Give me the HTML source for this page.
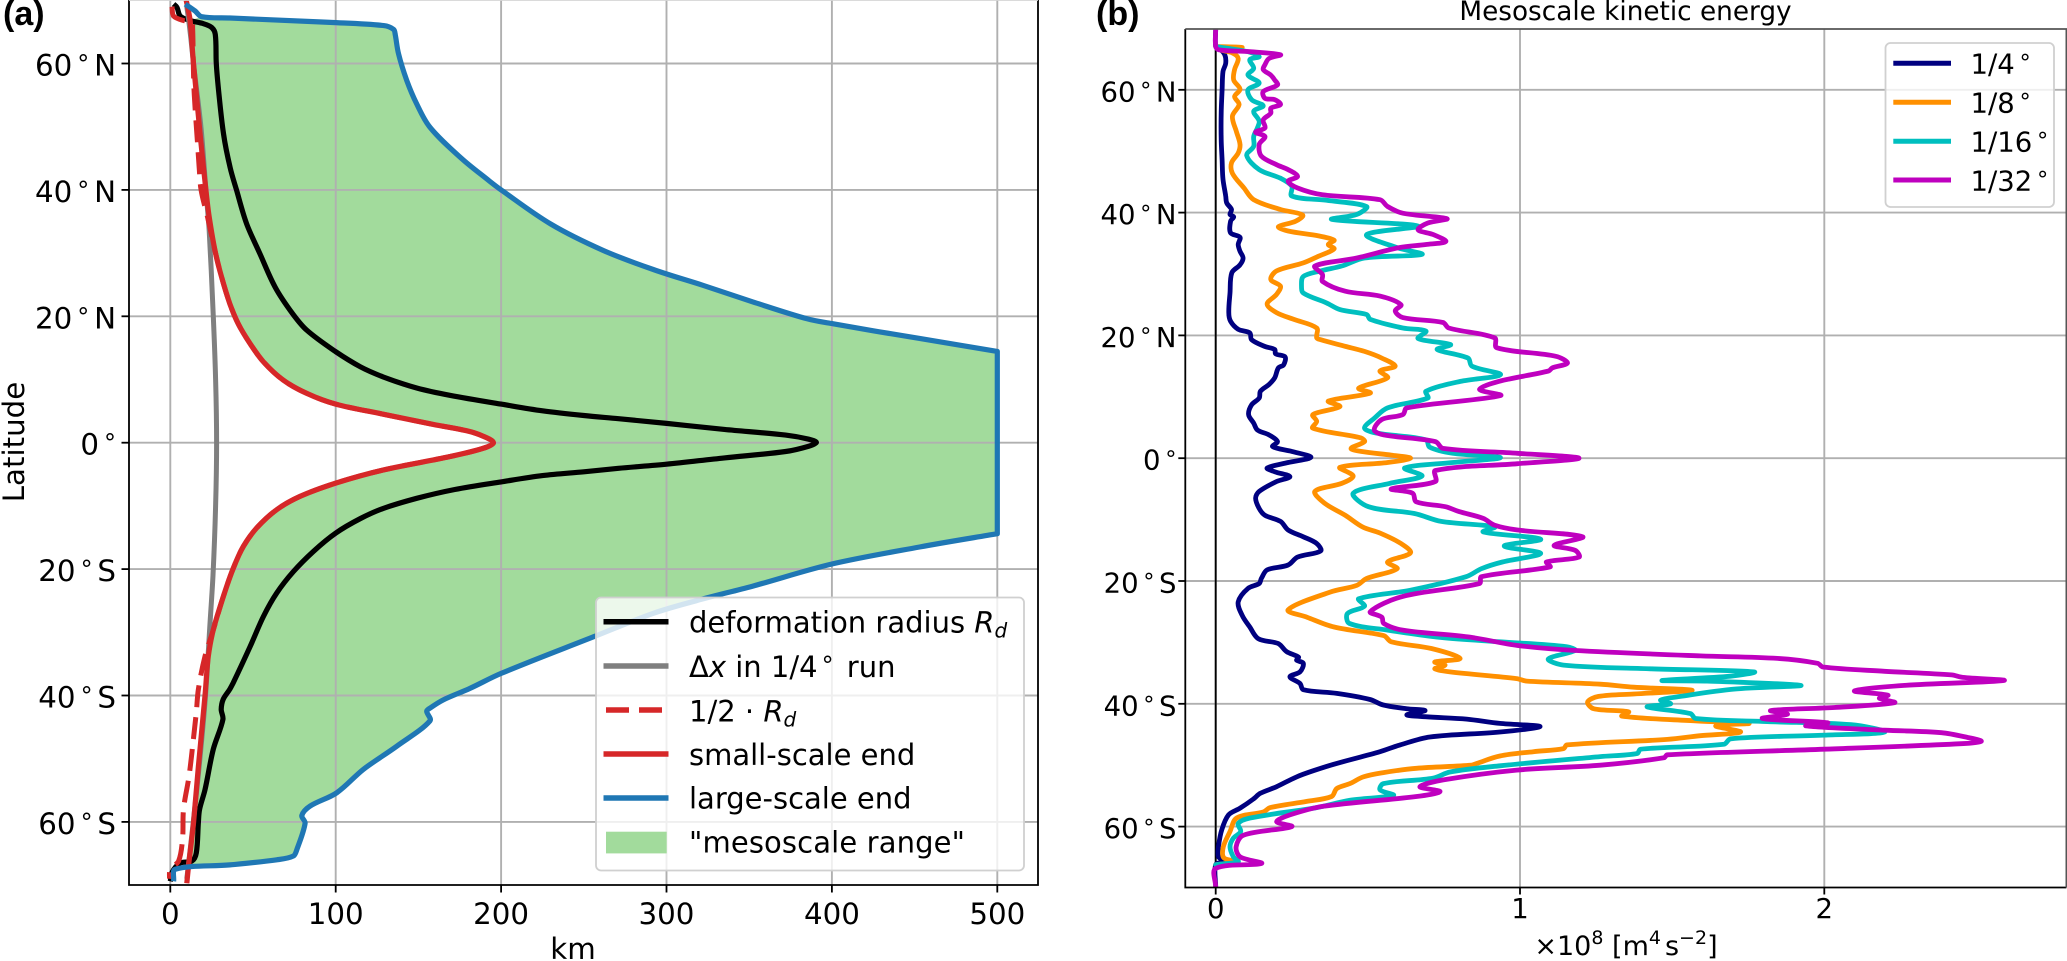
<!DOCTYPE html>
<html lang="en">
<head>
<meta charset="utf-8">
<title>Deformation radius and mesoscale kinetic energy</title>
<style>
html,body{margin:0;padding:0;background:#fff}
svg{display:block;font-family:"DejaVu Sans","Liberation Sans",sans-serif;fill:#000}
</style>
</head>
<body>
<svg id="fig" xmlns="http://www.w3.org/2000/svg" width="2067" height="961" viewBox="0 0 2067 961">
<defs>
<clipPath id="clipA"><rect x="129" y="0" width="909" height="885.5"/></clipPath>
<clipPath id="clipB"><rect x="1185.3" y="29" width="881.7" height="858.5"/></clipPath>
</defs>
<g id="panelA"></g>
<g id="panelB"></g>
</svg>
<script>
// ---------- Panel (a) data: latitude (deg) and length scale (km) ----------
const xTicksA = [0,100,200,300,400,500];
const latTicks = [60,40,20,0,-20,-40,-60];
const latTickLabels = ['60°N','40°N','20°N','0°','20°S','40°S','60°S'];

const latRd = [69.4,68.9,67.5,66.8,66.3,65.7,64.6,60,55.7,48.8,
43.5,40,34.6,29.9,24.6,20.4,17.8,14.4,12,10.4,
8.65,7.5,6.1,5.05,4.3,3.8,3.05,2.1,1.2,0.55,
0.05,-0.55,-1.4,-2.4,-3.4,-4.05,-4.6,-5.2,-6.2,-7.4,
-8.8,-10.4,-12,-14.3,-17.2,-20.4,-23.8,-27.5,-32.3,-38,
-39,-40.6,-42.2,-43.8,-48.5,-54.9,-58,-60,-64.9,-66.2,
-66.5,-68,-69.4];
const kmRd = [2,4,6,12,20,25,27.2,27.8,29.2,32.2,
36.2,40,46.2,54.2,63.4,74,82.5,100,115,128.8,
149,169,200,225,250,271,300,335,372,386,
390.6,386,372,335,300,271,250,225,200,172,
149,128.8,115,100,86.5,74.4,64.3,56.3,48.2,38,
36,32,30.8,31.8,26,21,17.7,17,15.7,13,
6,1,0];

const latGridSize = [69,65,60,50,40,33.5,20,10,0,-10,-21,-28.6,-40,-50,-60,-69];
const kmGridSize = [10,12,14,18.5,21.5,23.5,26,27.4,28,27.4,25.8,24,21.3,17.9,13.9,10];

const latHalf = [69,67.5,66.8,66.6,65.7,60,55,48.8,43.5,40,
35.6,30.4,26.2,22,18.8,15.7,12.8,9.9,7.8,6.1,
4.5,2.9,1.9,1.05,0,-0.9,-2.2,-4.3,-6.4,-8.5,
-10.6,-13.5,-16.4,-19.9,-24.4,-29.6,-33.8,-39,-42.7,-47.5,
-52.8,-58,-62.8,-66.2,-67.5,-69];
const kmHalf = [1,2,8,13,13.5,13.9,14.5,16.1,17.5,18.6,
22.6,27,31,36,41.1,48.2,56.3,68.3,82.5,100,
129,159,179,189,195.4,189,169,129,100,78.4,
64.3,52.2,44.2,38,32,26,21,17,15.7,13.7,
11.3,8,7.4,5,0,-0.5];

const latSmall = [70,68.9,66.8,60,48.8,40,35.6,30.4,26.2,22,
18.8,15.7,12.8,9.9,7.8,6.1,4.5,2.9,1.9,1.05,
0,-0.9,-2.2,-4.3,-6.4,-8.5,-10.6,-13.5,-16.4,-19.9,
-24.4,-29.6,-33.8,-40,-51.2,-60.2,-67,-69.7];
const kmSmall = [9.6,10.5,12,14,18,21.5,23.6,27,31,36,
41.1,48.2,56.3,68.3,82.5,100,129,159,179,189,
195.4,189,169,129,100,78.4,64.3,52.2,44.2,38,
32,26,23,21,17,14,11,10];

const latLarge = [69.4,68.3,67.4,67.2,66.5,66,65.4,64.6,61.5,57.3,
53.6,49.9,45,41.4,40,34.6,30.4,27.4,24.9,22.3,
19.6,18.85,17.7,16.5,14.45,-14.4,-16.5,-19.2,-22.7,-25,
-27,-30.7,-36.5,-38.9,-40.7,-42,-42.5,-44,-48,-51.7,
-55.4,-57.5,-59,-60.2,-64.4,-65.4,-66,-66.8,-67.5,-69.4];
const kmLarge = [9,15,19,36,96.6,129,135,136,138,143,
149,157,176,193,200,230,262,292,322,352,
385,400,425,453,500,500,453,400,352,318,
292,256,200,181,165,157,155,157,137,116.7,
100.6,84.5,79.5,81.5,76.5,74.4,64.4,36,3,2];

// ---------- Panel (b) data: latitude (deg) and kinetic energy (1e8 m^4 s^-2) ----------
const xTicksB = [0,1,2];
const seriesLabelsB = ['1/4','1/8','1/16','1/32'];

const lat4 = [70,67.05,66.8,65.7,64.3,63,60,56.2,51.9,48.6,
45.4,42.7,41.6,40.5,39.7,39.3,38.6,36.7,36,34.8,
33.7,32.6,31.5,30.2,26.9,23.7,22.3,21,20.4,19.3,
18.2,17.7,17,16.5,15.2,14.7,13.1,12,10.9,9.8,
8.7,7.1,5.7,4.6,3.8,2.7,1.9,1.1,0.15,-0.7,
-1.6,-2.2,-3,-3.8,-5.4,-6.5,-8.2,-9.3,-10.3,-11.7,
-12.8,-13.9,-15.1,-16.1,-17.4,-18.2,-19.6,-20.4,-21.2,-23.4,
-25.6,-27.5,-29.4,-30.2,-31.5,-32.4,-32.9,-33.4,-34.8,-35.6,
-36.7,-37.7,-38.3,-39.3,-40.2,-40.8,-41.1,-41.8,-42.1,-42.5,
-43.2,-43.7,-44.6,-45.4,-46.7,-47.8,-49.7,-50.9,-51.9,-53.5,
-54.6,-55.5,-57,-58.1,-60.5,-63.3,-64.9,-65.7,-66.2,-69.8];
const ke4 = [0,0,0.011,0.03,0.033,0.024,0.021,0.018,0.018,0.021,
0.024,0.033,0.036,0.052,0.047,0.059,0.049,0.049,0.08,0.074,
0.08,0.09,0.08,0.053,0.047,0.043,0.049,0.074,0.112,0.118,
0.162,0.194,0.197,0.228,0.223,0.206,0.194,0.175,0.147,0.143,
0.118,0.108,0.125,0.137,0.175,0.203,0.187,0.25,0.313,0.238,
0.169,0.194,0.244,0.2,0.143,0.131,0.143,0.162,0.213,0.238,
0.288,0.332,0.345,0.269,0.238,0.169,0.15,0.143,0.106,0.074,
0.087,0.112,0.14,0.206,0.233,0.272,0.266,0.288,0.277,0.244,
0.277,0.288,0.398,0.507,0.551,0.628,0.688,0.628,0.688,0.825,
0.934,1.066,0.934,0.704,0.606,0.54,0.398,0.321,0.266,0.2,
0.146,0.124,0.08,0.042,0.02,0.009,0.009,0.027,0,0];

const lat8 = [67.05,66.9,66.5,66,65.1,63.3,61.6,60.1,58.9,57.6,
55.7,53.2,51.1,49.7,48.1,46.4,44,42.1,40.5,39.6,
38.6,37.7,37,36.2,35.5,34.8,34.1,32.9,31.8,30.5,
29.1,28,26.7,25.1,23.7,22.6,21.2,19.6,19.3,18.2,
17.4,16.3,15,14.2,13.1,11.4,10.6,9.3,8.4,7.1,
6,4.9,3.3,2.7,1.6,1.1,0.5,0,-0.7,-1.5,
-2.9,-4.1,-5.4,-7.3,-9.3,-11.2,-12.2,-13.9,-15.4,-16.9,
-18,-19.6,-20.7,-21.8,-24.7,-25.9,-27.5,-28.9,-29.9,-31,
-32.6,-33.2,-33.7,-34.3,-34.8,-35.9,-36.3,-36.8,-37.3,-37.8,
-38.4,-38.8,-39.7,-40.8,-41.3,-42,-42.8,-43.2,-43.6,-44.6,
-45.2,-45.8,-46.7,-47.3,-47.8,-48.5,-49.7,-50,-50.5,-51.2,
-51.9,-53,-53.8,-55.1,-55.9,-56.9,-57.6,-58.6,-60.8,-63.3,
-65.1,-65.7,-66.2];
const ke8 = [0,0.087,0.018,0.055,0.074,0.062,0.059,0.08,0.062,0.077,
0.055,0.068,0.08,0.074,0.052,0.055,0.093,0.125,0.213,0.286,
0.263,0.206,0.238,0.338,0.389,0.37,0.389,0.338,0.288,0.2,
0.181,0.213,0.2,0.169,0.2,0.257,0.332,0.332,0.345,0.428,
0.489,0.546,0.59,0.54,0.565,0.47,0.508,0.37,0.408,0.319,
0.332,0.319,0.477,0.489,0.445,0.477,0.577,0.64,0.565,0.408,
0.452,0.414,0.326,0.357,0.426,0.483,0.54,0.609,0.64,0.565,
0.596,0.496,0.464,0.376,0.238,0.3,0.389,0.552,0.577,0.709,
0.803,0.72,0.754,0.72,0.77,0.989,1.022,1.264,1.374,1.566,
1.374,1.258,1.222,1.242,1.357,1.335,1.582,1.753,1.643,1.725,
1.593,1.484,1.154,1.143,1.044,0.934,0.858,0.841,0.66,0.551,
0.485,0.441,0.398,0.381,0.299,0.179,0.157,0.069,0.047,0.025,
0.027,0.069,0];

const lat16 = [67.05,66.2,65.4,64.9,63.5,62.4,61.1,60,58.4,57.4,
56.5,54.9,53.8,52.4,50.8,49.3,47,45.6,44.3,42.7,
42,41,39.7,38.9,37.8,36.4,34.3,33.2,32.6,31.3,
30.5,29.6,28,26.9,25.3,24.2,23.4,22.6,21.2,20.7,
19.5,18.5,17.7,16.3,15,13.6,12.5,10.9,9.8,8.2,
6.5,4.9,4.1,3,1.8,0.8,0.1,-0.7,-1.6,-2.9,
-4.1,-5.7,-7.9,-9,-10.3,-11.2,-12,-13.2,-14.3,-15.5,
-16.9,-18,-19.3,-21.5,-22.9,-24.1,-25.3,-26.9,-28,-29.2,
-29.9,-30.7,-31.3,-32.7,-33.7,-34.3,-34.8,-35.5,-36.2,-36.3,
-37,-37.6,-38.8,-39.4,-40,-40.5,-41.6,-42.4,-42.9,-43.4,
-44.6,-45.1,-45.7,-46.6,-47.4,-48.1,-48.6,-50.1,-51.1,-52.1,
-53,-54,-54.9,-55.7,-56.9,-58.6,-59.5,-60.8,-61.9,-63.3,
-64.9,-65.7,-66.2];
const ke16 = [0,0.106,0.143,0.112,0.125,0.106,0.143,0.106,0.118,0.156,
0.125,0.143,0.137,0.125,0.125,0.102,0.143,0.213,0.25,0.25,
0.364,0.496,0.464,0.382,0.665,0.496,0.596,0.678,0.489,0.414,
0.345,0.288,0.282,0.288,0.364,0.408,0.496,0.508,0.615,0.691,
0.665,0.772,0.728,0.829,0.842,0.936,0.804,0.691,0.697,0.565,
0.521,0.489,0.527,0.691,0.703,0.779,0.936,0.779,0.621,0.678,
0.571,0.452,0.502,0.653,0.741,0.917,0.879,1.068,0.948,1.068,
0.942,0.873,0.823,0.64,0.47,0.489,0.433,0.439,0.565,0.741,
0.934,1.154,1.181,1.093,1.143,1.429,1.769,1.692,1.467,1.615,
1.923,1.703,1.527,1.462,1.495,1.418,1.56,1.577,1.813,2.088,
2.198,2,1.692,1.67,1.396,1.385,1.264,0.934,0.77,0.715,
0.551,0.54,0.584,0.441,0.332,0.113,0.074,0.082,0.058,0.047,
0.058,0.074,0];

const lat32 = [70,67.05,66.5,66.2,65.7,65.1,64.1,63.3,62.4,61.6,
60.8,59.7,58.6,58.4,57.6,57,56.2,55.1,53.8,53.1,
52.4,51.1,49.2,47.8,47,45.9,45.1,44,42.9,42.1,
41,39.9,39,38.3,37.2,36.4,35.3,34.8,34.3,32.6,
31.3,29.9,28.8,27.2,26.4,25,24,22.9,22.1,21.2,
19.6,18,16.6,15.5,14.7,14.2,12.5,11.2,10.2,8.2,
7.1,6.3,4.6,3.8,2.7,1.6,0.8,0,-0.9,-2,
-3.8,-5,-5.7,-7.1,-7.9,-8.7,-9.8,-10.9,-11.7,-12.8,
-14.2,-15,-16.1,-16.9,-17.7,-19.3,-20.4,-22.5,-25,-25.9,
-26.9,-28,-29.1,-30.5,-31.3,-32.2,-32.6,-33.4,-34,-34.7,
-35.3,-35.7,-36.2,-37,-37.9,-38.6,-39.1,-39.8,-40.6,-41.1,
-41.7,-42.4,-43.1,-43.6,-44.3,-44.7,-45.5,-46.1,-46.5,-47.4,
-48.3,-48.8,-50,-50.8,-52.4,-53.5,-54.3,-55.1,-56.7,-58.1,
-59.2,-60,-61.4,-63.3,-64.9,-66,-66.8,-69.8];
const ke32 = [0,0,0.011,0.112,0.213,0.175,0.162,0.156,0.181,0.194,
0.203,0.156,0.162,0.194,0.213,0.181,0.181,0.156,0.162,0.131,
0.162,0.143,0.15,0.2,0.238,0.269,0.238,0.269,0.351,0.54,
0.565,0.615,0.76,0.697,0.665,0.716,0.756,0.691,0.603,0.464,
0.326,0.351,0.351,0.426,0.54,0.609,0.59,0.615,0.747,0.766,
0.917,0.923,1.118,1.156,1.106,1.094,0.93,0.867,0.936,0.628,
0.615,0.546,0.521,0.552,0.722,0.747,0.992,1.194,0.992,0.722,
0.722,0.577,0.647,0.659,0.755,0.8,0.879,0.916,0.992,1.206,
1.112,1.181,1.194,1.087,1.099,0.873,0.867,0.615,0.508,0.546,
0.552,0.615,0.829,0.992,1.176,1.593,1.846,1.978,1.995,2.198,
2.418,2.456,2.59,2.264,2.099,2.209,2.181,2.231,2.033,1.824,
1.879,1.797,2.011,1.94,2.198,2.385,2.473,2.516,2.45,2,
1.484,1.473,1.264,0.989,0.748,0.671,0.737,0.66,0.354,0.244,
0.2,0.25,0.091,0.067,0.08,0.151,0,0];

// ---------- Axis functions ----------
const NS = 'http://www.w3.org/2000/svg';
function xA(km){ return 170.3 + km * 1.654; }
function yA(lat){ return 442.7 - lat * 6.32; }
function xB(v){ return 1215.7 + v * 304.3; }
function yB(lat){ return 458.2 - lat * 6.14; }

function el(parent, tag, attrs, txt){
  const e = document.createElementNS(NS, tag);
  for (const k in attrs) e.setAttribute(k, attrs[k]);
  if (txt !== undefined) e.textContent = txt;
  parent.appendChild(e);
  return e;
}
function dist(a, b){ return Math.hypot(a[0]-b[0], a[1]-b[1]) || 0.001; }
function tangent(p, i){
  if (i === 0) { const L = dist(p[0], p[1]); return [(p[1][0]-p[0][0])/L, (p[1][1]-p[0][1])/L]; }
  const n = p.length - 1;
  if (i === n) { const L = dist(p[n-1], p[n]); return [(p[n][0]-p[n-1][0])/L, (p[n][1]-p[n-1][1])/L]; }
  const s = dist(p[i-1], p[i]) + dist(p[i], p[i+1]);
  return [(p[i+1][0]-p[i-1][0])/s, (p[i+1][1]-p[i-1][1])/s];
}
function smoothCommands(p){
  let d = '';
  for (let i = 0; i < p.length - 1; i++){
    const L = dist(p[i], p[i+1]) / 3;
    const m1 = tangent(p, i), m2 = tangent(p, i+1);
    d += 'C' + (p[i][0]+m1[0]*L).toFixed(1) + ' ' + (p[i][1]+m1[1]*L).toFixed(1) + ' ' +
      (p[i+1][0]-m2[0]*L).toFixed(1) + ' ' + (p[i+1][1]-m2[1]*L).toFixed(1) + ' ' +
      p[i+1][0].toFixed(1) + ' ' + p[i+1][1].toFixed(1);
  }
  return d;
}
function pointsFrom(vals, lats, fx, fy){
  const out = [];
  const n = Math.min(vals.length, lats.length);
  for (let i = 0; i < n; i++) out.push([fx(vals[i]), fy(lats[i])]);
  return out;
}
function smoothPath(vals, lats, fx, fy){
  const p = pointsFrom(vals, lats, fx, fy);
  return 'M' + p[0][0].toFixed(1) + ' ' + p[0][1].toFixed(1) + smoothCommands(p);
}
// Large-scale curve has sharp corners where it saturates at its maximum.
function largePathA(kms, lats){
  const p = pointsFrom(kms, lats, xA, yA);
  const top = Math.max.apply(null, kms);
  const a = kms.indexOf(top), b = kms.lastIndexOf(top);
  return 'M' + p[0][0].toFixed(1) + ' ' + p[0][1].toFixed(1) + smoothCommands(p.slice(0, a+1)) +
    'L' + p[b][0].toFixed(1) + ' ' + p[b][1].toFixed(1) + smoothCommands(p.slice(b));
}
function degreeText(parent, x, y, label, size, anchor){
  const parts = label.split('°');
  const t = el(parent, 'text', {x:x, y:y, 'font-size':size, 'text-anchor':anchor});
  el(t, 'tspan', {}, parts[0]);
  el(t, 'tspan', {dx:(size*0.17).toFixed(1), dy:(-size*0.12).toFixed(1), 'font-size':(size*0.82).toFixed(1)}, '°');
  if (parts[1]) el(t, 'tspan', {dx:(size*0.165).toFixed(1), dy:(size*0.12).toFixed(1)}, parts[1]);
  return t;
}

// ---------- Panel (a) ----------
const A = document.getElementById('panelA');
const FA = 29.3, FL = 29, FB = 27.5;

const fillLat = [], fillKm = [];
for (let i = 0; i < latLarge.length; i++){
  if (latLarge[i] < 67.5 && latLarge[i] > -67.2){ fillLat.push(latLarge[i]); fillKm.push(kmLarge[i]); }
}
const fillLatS = [], fillKmS = [];
for (let i = latSmall.length - 1; i >= 0; i--){
  if (latSmall[i] < 67.5 && latSmall[i] > -67.2){ fillLatS.push(latSmall[i]); fillKmS.push(kmSmall[i]); }
}
const rangePath = largePathA(fillKm, fillLat) + 'L' + xA(fillKmS[0]).toFixed(1) + ' ' + yA(fillLatS[0]).toFixed(1) +
  smoothCommands(pointsFrom(fillKmS, fillLatS, xA, yA)) + 'Z';
const rangeFill = el(A, 'path', {d:rangePath, fill:'#a2db9c', stroke:'none', 'clip-path':'url(#clipA)'});



for (const v of xTicksA){
  const g = el(A, 'line', {x1:xA(v), x2:xA(v), y1:0, y2:885, stroke:'#b0b0b0', 'stroke-width':1.9});
  
  
  const k = el(A, 'line', {x1:xA(v), x2:xA(v), y1:885, y2:892.5, stroke:'#000', 'stroke-width':1.8});
  
  
  const l = el(A, 'text', {x:xA(v), y:924, 'font-size':FA, 'text-anchor':'middle'}, String(v));
  
  
}
latTicks.forEach(function(v, i){
  const g = el(A, 'line', {x1:129, x2:1038, y1:yA(v), y2:yA(v), stroke:'#b0b0b0', 'stroke-width':1.9});
  
  
  const k = el(A, 'line', {x1:121.5, x2:129, y1:yA(v), y2:yA(v), stroke:'#000', 'stroke-width':1.8});
  
  
  const l = degreeText(A, 116, yA(v)+12, latTickLabels[i], FA, 'end');
  
  
});

const curveRd = el(A, 'path', {d:smoothPath(kmRd, latRd, xA, yA), fill:'none', stroke:'#000', 'stroke-width':5.2, 'stroke-linejoin':'round', 'clip-path':'url(#clipA)'});


const curveGrid = el(A, 'path', {d:smoothPath(kmGridSize, latGridSize, xA, yA), fill:'none', stroke:'#7f7f7f', 'stroke-width':5, 'clip-path':'url(#clipA)'});


const curveHalf = el(A, 'path', {d:smoothPath(kmHalf, latHalf, xA, yA), fill:'none', stroke:'#d62728', 'stroke-width':5, 'stroke-dasharray':'22 10', 'clip-path':'url(#clipA)'});


const curveSmall = el(A, 'path', {d:smoothPath(kmSmall, latSmall, xA, yA), fill:'none', stroke:'#d62728', 'stroke-width':5.2, 'clip-path':'url(#clipA)'});


const curveLarge = el(A, 'path', {d:largePathA(kmLarge, latLarge), fill:'none', stroke:'#1f77b4', 'stroke-width':5.2, 'stroke-linejoin':'round', 'clip-path':'url(#clipA)'});



const frameA = el(A, 'path', {d:'M129 0V885H1038V0', fill:'none', stroke:'#000', 'stroke-width':1.8});


const frameAtop = el(A, 'line', {x1:129, x2:1038, y1:0.4, y2:0.4, stroke:'#d4d4d4', 'stroke-width':1});



const panelLabelA = el(A, 'text', {x:3, y:25, 'font-size':34, 'font-weight':'bold', style:'font-family:"Liberation Sans",sans-serif'}, '(a)');


const yTitleA = el(A, 'text', {x:0, y:0, 'font-size':FA, 'text-anchor':'middle', transform:'translate(24,442) rotate(-90)'}, 'Latitude');


const xTitleA = el(A, 'text', {x:573, y:959, 'font-size':FA, 'text-anchor':'middle'}, 'km');



// Legend (a)
const legA = el(A, 'g', {});


const legBoxA = el(legA, 'rect', {x:596, y:597.5, width:428, height:273, rx:5, fill:'#fff', 'fill-opacity':0.8, stroke:'#d0d0d0', 'stroke-width':1.8});


const hRd = el(legA, 'line', {x1:603.5, x2:668.5, y1:621.7, y2:621.7, stroke:'#000', 'stroke-width':5.5});


const tRd = el(legA, 'text', {x:689, y:632.7, 'font-size':FL});


el(tRd, 'tspan', {}, 'deformation radius ');
el(tRd, 'tspan', {'font-style':'italic'}, 'R');
el(tRd, 'tspan', {'font-style':'italic', 'font-size':20, dy:5}, 'd');
const hGrid = el(legA, 'line', {x1:603.5, x2:668.5, y1:666, y2:666, stroke:'#7f7f7f', 'stroke-width':5.5});


const tGrid = el(legA, 'text', {x:689, y:677, 'font-size':FL});


el(tGrid, 'tspan', {}, 'Δ');
el(tGrid, 'tspan', {'font-style':'italic'}, 'x');
el(tGrid, 'tspan', {}, ' in 1/4');
el(tGrid, 'tspan', {dx:4, dy:-3.5, 'font-size':24}, '°');
el(tGrid, 'tspan', {dx:4, dy:3.5}, ' run');
const hHalf = el(legA, 'line', {x1:606, x2:666, y1:710, y2:710, stroke:'#d62728', 'stroke-width':5.5, 'stroke-dasharray':'23 10'});


const tHalf = el(legA, 'text', {x:689, y:721.7, 'font-size':FL});


el(tHalf, 'tspan', {}, '1/2 · ');
el(tHalf, 'tspan', {'font-style':'italic'}, 'R');
el(tHalf, 'tspan', {'font-style':'italic', 'font-size':20, dy:5}, 'd');
const hSmall = el(legA, 'line', {x1:603.5, x2:668.5, y1:754, y2:754, stroke:'#d62728', 'stroke-width':5.5});


const tSmall = el(legA, 'text', {x:689, y:765, 'font-size':FL}, 'small-scale end');


const hLarge = el(legA, 'line', {x1:603.5, x2:668.5, y1:798, y2:798, stroke:'#1f77b4', 'stroke-width':5.5});


const tLarge = el(legA, 'text', {x:689, y:808.5, 'font-size':FL}, 'large-scale end');


const hRange = el(legA, 'rect', {x:606, y:831.7, width:60.7, height:21.7, fill:'#a2db9c'});


const tRange = el(legA, 'text', {x:689, y:852.3, 'font-size':FL, textLength:276, lengthAdjust:'spacing'}, '"mesoscale range"');



// ---------- Panel (b) ----------
const B = document.getElementById('panelB');

for (const v of xTicksB){
  const g = el(B, 'line', {x1:xB(v), x2:xB(v), y1:29, y2:887.5, stroke:'#b0b0b0', 'stroke-width':1.9});
  
  
  const k = el(B, 'line', {x1:xB(v), x2:xB(v), y1:887.5, y2:894.5, stroke:'#000', 'stroke-width':1.8});
  
  
  const l = el(B, 'text', {x:xB(v), y:918, 'font-size':FB, 'text-anchor':'middle'}, String(v));
  
  
}
latTicks.forEach(function(v, i){
  const g = el(B, 'line', {x1:1185.3, x2:2067, y1:yB(v), y2:yB(v), stroke:'#b0b0b0', 'stroke-width':1.9});
  
  
  const k = el(B, 'line', {x1:1178.3, x2:1185.3, y1:yB(v), y2:yB(v), stroke:'#000', 'stroke-width':1.8});
  
  
  const l = degreeText(B, 1176.5, yB(v)+11.5, latTickLabels[i], FB, 'end');
  
  
});

const zeroLine = el(B, 'line', {x1:xB(0), x2:xB(0), y1:29, y2:887.5, stroke:'#000', 'stroke-width':1.9});



const line4 = el(B, 'path', {d:smoothPath(ke4, lat4, xB, yB), fill:'none', stroke:'#000080', 'stroke-width':4.8, 'stroke-linejoin':'round', 'stroke-linecap':'round', 'clip-path':'url(#clipB)'});


const line8 = el(B, 'path', {d:smoothPath(ke8, lat8, xB, yB), fill:'none', stroke:'#ff9000', 'stroke-width':4.8, 'stroke-linejoin':'round', 'stroke-linecap':'round', 'clip-path':'url(#clipB)'});


const line16 = el(B, 'path', {d:smoothPath(ke16, lat16, xB, yB), fill:'none', stroke:'#00bfbf', 'stroke-width':4.8, 'stroke-linejoin':'round', 'stroke-linecap':'round', 'clip-path':'url(#clipB)'});


const line32 = el(B, 'path', {d:smoothPath(ke32, lat32, xB, yB), fill:'none', stroke:'#bf00bf', 'stroke-width':4.8, 'stroke-linejoin':'round', 'stroke-linecap':'round', 'clip-path':'url(#clipB)'});



const frameB = el(B, 'path', {d:'M1185.3 29V887.5H2066.4', fill:'none', stroke:'#000', 'stroke-width':1.8});


const frameBtop = el(B, 'path', {d:'M1185.3 29H2066.4V887.5', fill:'none', stroke:'#555', 'stroke-width':1.8});



const panelLabelB = el(B, 'text', {x:1096, y:25, 'font-size':34, 'font-weight':'bold', style:'font-family:"Liberation Sans",sans-serif'}, '(b)');


const titleB = el(B, 'text', {x:1625.5, y:20, 'font-size':26.3, 'text-anchor':'middle'}, 'Mesoscale kinetic energy');



const xTitleB = el(B, 'text', {x:1626, y:955, 'font-size':27, 'text-anchor':'middle'});


el(xTitleB, 'tspan', {}, '×10');
el(xTitleB, 'tspan', {'font-size':19, dy:-11}, '8');
el(xTitleB, 'tspan', {dy:11}, ' [m');
el(xTitleB, 'tspan', {'font-size':19, dy:-11}, '4');
el(xTitleB, 'tspan', {dy:11, dx:4}, 's');
el(xTitleB, 'tspan', {'font-size':19, dy:-11}, '−2');
el(xTitleB, 'tspan', {dy:11}, ']');

// Legend (b)
const legB = el(B, 'g', {});


const legBoxB = el(legB, 'rect', {x:1885.5, y:43, width:168.5, height:164, rx:5, fill:'#fff', 'fill-opacity':0.8, stroke:'#d0d0d0', 'stroke-width':1.8});


const hb1 = el(legB, 'line', {x1:1893.3, x2:1951, y1:63.3, y2:63.3, stroke:'#000080', 'stroke-width':5});


const lb1 = degreeText(legB, 1970.5, 73.5, seriesLabelsB[0] + '°', FB, 'start');


const hb2 = el(legB, 'line', {x1:1893.3, x2:1951, y1:102.3, y2:102.3, stroke:'#ff9000', 'stroke-width':5});


const lb2 = degreeText(legB, 1970.5, 112.5, seriesLabelsB[1] + '°', FB, 'start');


const hb3 = el(legB, 'line', {x1:1893.3, x2:1951, y1:141.3, y2:141.3, stroke:'#00bfbf', 'stroke-width':5});


const lb3 = degreeText(legB, 1970.5, 151.5, seriesLabelsB[2] + '°', FB, 'start');


const hb4 = el(legB, 'line', {x1:1893.3, x2:1951, y1:180, y2:180, stroke:'#bf00bf', 'stroke-width':5});


const lb4 = degreeText(legB, 1970.5, 190.3, seriesLabelsB[3] + '°', FB, 'start');


</script>
</body>
</html>
